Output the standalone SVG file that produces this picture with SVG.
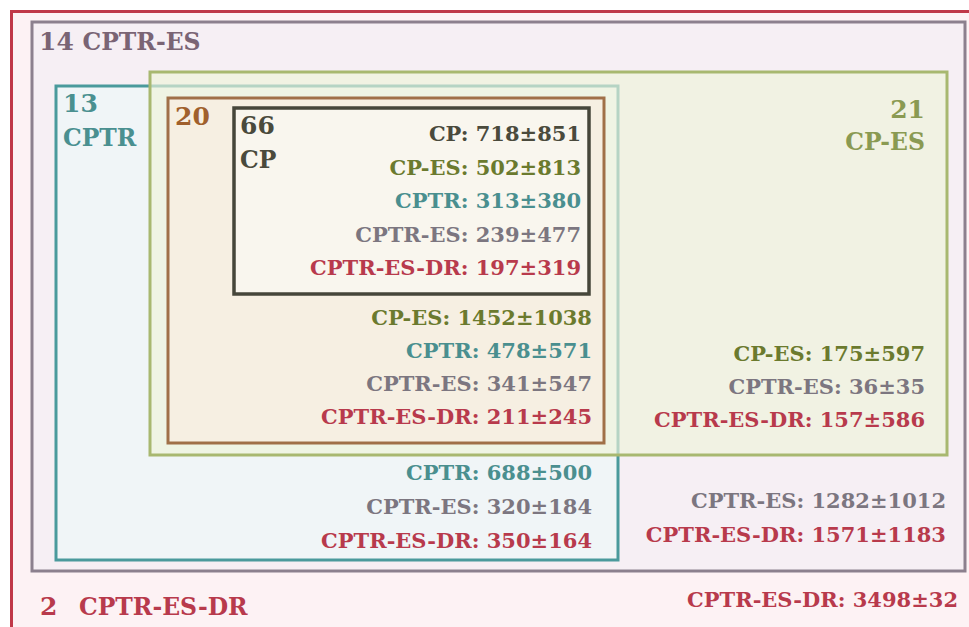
<svg xmlns="http://www.w3.org/2000/svg" width="969" height="627" viewBox="0 0 969 627">
<style>
text{font-family:"DejaVu Serif","Liberation Serif",serif;font-weight:bold;font-size:21px}
.r{text-anchor:end}
.num{font-size:25px}
.name{font-size:23.5px}
.cp{fill:#4a4a3c}
.cpes{fill:#6b7a2e}
.cptr{fill:#4a8f8f}
.es{fill:#7c7680}
.dr{fill:#b83a4c}
</style>
<rect width="969" height="627" fill="#ffffff"/>
<g id="box2">
<rect x="11.5" y="11.5" width="1000" height="700" fill="#fdf2f4" stroke="#c03848" stroke-width="3"/>
<text x="40" y="615" class="dr num">2</text>
<text x="79" y="615" class="dr name">CPTR-ES-DR</text>
<text x="958" y="607" class="r dr">CPTR-ES-DR: 3498±32</text>
</g>
<g id="box14">
<rect x="32" y="22" width="933" height="549" fill="#f6eff4" stroke="#8c808e" stroke-width="3"/>
<text x="39" y="50" fill="#7a6474" class="num">14 <tspan class="name">CPTR-ES</tspan></text>
<text x="946" y="508" class="r es">CPTR-ES: 1282±1012</text>
<text x="946" y="542" class="r dr">CPTR-ES-DR: 1571±1183</text>
</g>
<g id="box13">
<rect x="56" y="86" width="562" height="474" fill="#f0f5f7" stroke="#4a9a9c" stroke-width="3"/>
<text x="63" y="112" fill="#4a9090" class="num">13</text>
<text x="63" y="146" fill="#4a9090" class="name">CPTR</text>
<text x="592" y="480" class="r cptr">CPTR: 688±500</text>
<text x="592" y="514" class="r es">CPTR-ES: 320±184</text>
<text x="592" y="548" class="r dr">CPTR-ES-DR: 350±164</text>
</g>
<g id="box21">
<rect x="150" y="72" width="797" height="383" fill="#eef2da" fill-opacity="0.65" stroke="#a8b870" stroke-width="3"/>
<text x="925" y="118" class="r num" fill="#8a9a52">21</text>
<text x="925" y="150" class="r name" fill="#8a9a52">CP-ES</text>
<text x="925" y="361" class="r cpes">CP-ES: 175±597</text>
<text x="925" y="394" class="r es">CPTR-ES: 36±35</text>
<text x="925" y="427" class="r dr">CPTR-ES-DR: 157±586</text>
</g>
<g id="box20">
<rect x="168" y="98" width="436" height="345" fill="#f6efe2" stroke="#a07048" stroke-width="3"/>
<text x="175" y="125" fill="#a0602c" class="num">20</text>
<text x="592" y="325" class="r cpes">CP-ES: 1452±1038</text>
<text x="592" y="358" class="r cptr">CPTR: 478±571</text>
<text x="592" y="391" class="r es">CPTR-ES: 341±547</text>
<text x="592" y="424" class="r dr">CPTR-ES-DR: 211±245</text>
</g>
<g id="box66">
<rect x="234" y="108" width="355" height="186" fill="#f9f6ee" stroke="#46463a" stroke-width="3.5"/>
<text x="240" y="134" class="cp num">66</text>
<text x="240" y="168" class="cp name">CP</text>
<text x="581" y="141" class="r cp">CP: 718±851</text>
<text x="581" y="175" class="r cpes">CP-ES: 502±813</text>
<text x="581" y="208" class="r cptr">CPTR: 313±380</text>
<text x="581" y="242" class="r es">CPTR-ES: 239±477</text>
<text x="581" y="275" class="r dr">CPTR-ES-DR: 197±319</text>
</g>
<g id="connectors"></g>
</svg>
